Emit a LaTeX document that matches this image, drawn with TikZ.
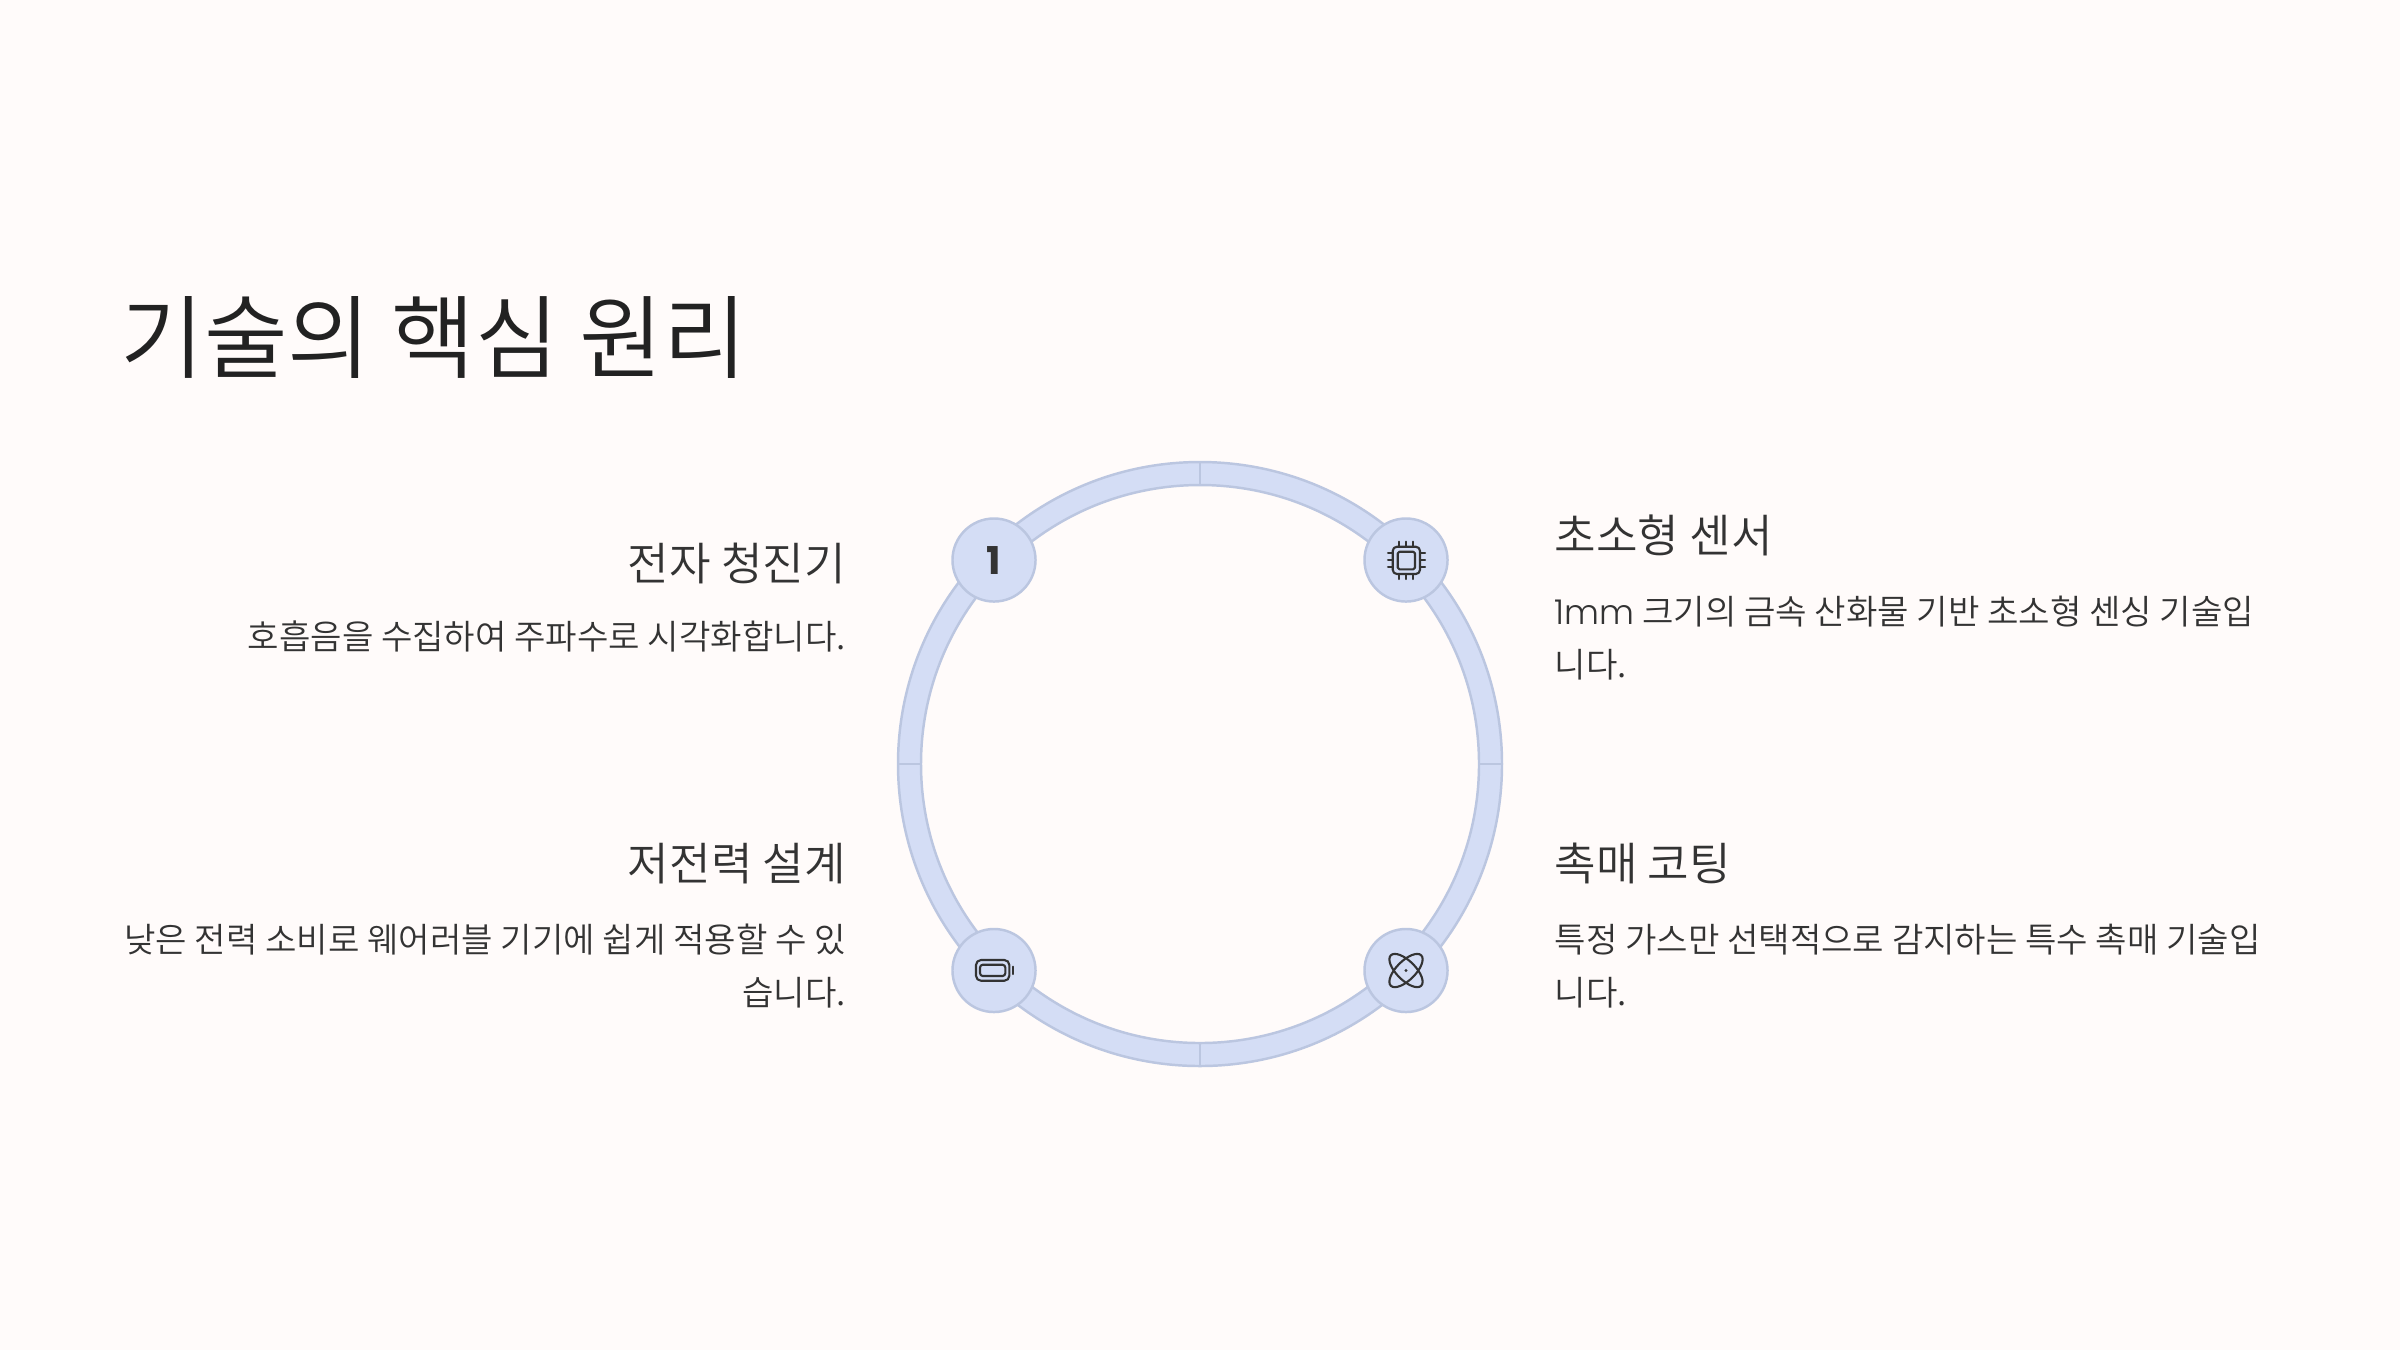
\documentclass[tikz,border=0pt]{standalone}
\usepackage{fontspec}
\setmainfont{Noto Sans CJK KR}[UprightFont=* DemiLight, BoldFont=* Medium]
\newfontfamily\numfont{Poppins}[UprightFont=* Light, BoldFont=* Bold]
\usetikzlibrary{calc, positioning}
\definecolor{pagebg}{HTML}{FFFBFA}
\definecolor{ringfill}{HTML}{D4DDF5}
\definecolor{ringline}{HTML}{BBC6E0}
\definecolor{inktitle}{HTML}{222222}
\definecolor{inktext}{HTML}{333333}
\tikzset{
  titletext/.style={font=\fontsize{25.85}{30}\selectfont, text=inktitle, inner sep=0pt},
  headtext/.style={font=\fontsize{12.85}{16}\selectfont, text=inktext, inner sep=0pt},
  bodytext/.style={font=\fontsize{9.72}{15.25}\selectfont, text=inktext, inner sep=0pt},
  leftcol/.style={anchor=north east, align=right},
  rightcol/.style={anchor=north west, align=left},
  badge/.style={circle, draw=ringline, fill=ringfill, line width=0.7pt, minimum size=0.83cm, inner sep=0pt, text=inktext},
  icon/.style={draw=inktext, line width=0.6pt, line cap=round, line join=round},
}
\begin{document}
\begin{tikzpicture}[x=0.01cm, y=-0.01cm]
\def\ringx{1200}
\def\ringy{764}
\def\ringout{302}
\def\ringin{279}

\useasboundingbox (0,0) rectangle (2400,1350);
\fill[pagebg] (0,0) rectangle (2400,1350);

\coordinate (ringc) at (\ringx,\ringy);
\draw[draw=ringline, fill=ringfill, line width=0.7pt, even odd rule]
  (ringc) circle (\ringout) (ringc) circle (\ringin);
\foreach \a in {0,90,180,270}
  \draw[ringline, line width=0.7pt] ($(ringc)+(\a:\ringin)$) -- ($(ringc)+(\a:\ringout)$);

\node[badge] (sound) at (994,560) {\numfont\bfseries\fontsize{10.9}{12}\selectfont 1};
\node[badge] (chip) at (1406,560) {};
\node[badge] (power) at (994,970.5) {};
\node[badge] (atom) at (1406,970.5) {};

% chip
\draw[icon, rounded corners=1.2pt] (1392.7,546.7) rectangle (1420,574);
\draw[icon, rounded corners=0.5pt] (1397.7,551.7) rectangle (1415,569.3);
\foreach \d in {-7.3,0,7.3} {
  \draw[icon] (1406+\d,541.7) -- (1406+\d,546.7);
  \draw[icon] (1406+\d,574) -- (1406+\d,579);
  \draw[icon] (1388,560+\d) -- (1392.7,560+\d);
  \draw[icon] (1420,560+\d) -- (1425,560+\d);
}

% battery
\draw[icon, rounded corners=1.4pt] (976,960) rectangle (1009.3,980.7);
\draw[icon, rounded corners=0.8pt] (980,964.7) rectangle (1005.3,976);
\draw[icon] (1012.8,966.7) -- (1012.8,974);

% atom
\draw[icon] (atom) ellipse [x radius=21.5, y radius=9.5, rotate=45];
\draw[icon] (atom) ellipse [x radius=21.5, y radius=9.5, rotate=-45];
\fill[inktext] (atom) circle (1.7);

\node[titletext, anchor=west] (title) at (120,337) {기술의 핵심 원리};

\node[headtext, leftcol] (h1) at (846.5,542) {전자 청진기};
\node[bodytext, leftcol] (b1) at (846.5,620) {호흡음을 수집하여 주파수로 시각화합니다.};
\node[headtext, leftcol] (h2) at (846.5,842) {저전력 설계};
\node[bodytext, leftcol] (b2) at (846.5,923) {낮은 전력 소비로 웨어러블 기기에 쉽게 적용할 수 있\\습니다.};

\node[headtext, rightcol] (h3) at (1554,514) {초소형 센서};
\node[bodytext, rightcol] (b3) at (1554,595) {{\numfont 1mm} 크기의 금속 산화물 기반 초소형 센싱 기술입\\니다.};
\node[headtext, rightcol] (h4) at (1554,842) {촉매 코팅};
\node[bodytext, rightcol] (b4) at (1554,923) {특정 가스만 선택적으로 감지하는 특수 촉매 기술입\\니다.};
\end{tikzpicture}
\end{document}
